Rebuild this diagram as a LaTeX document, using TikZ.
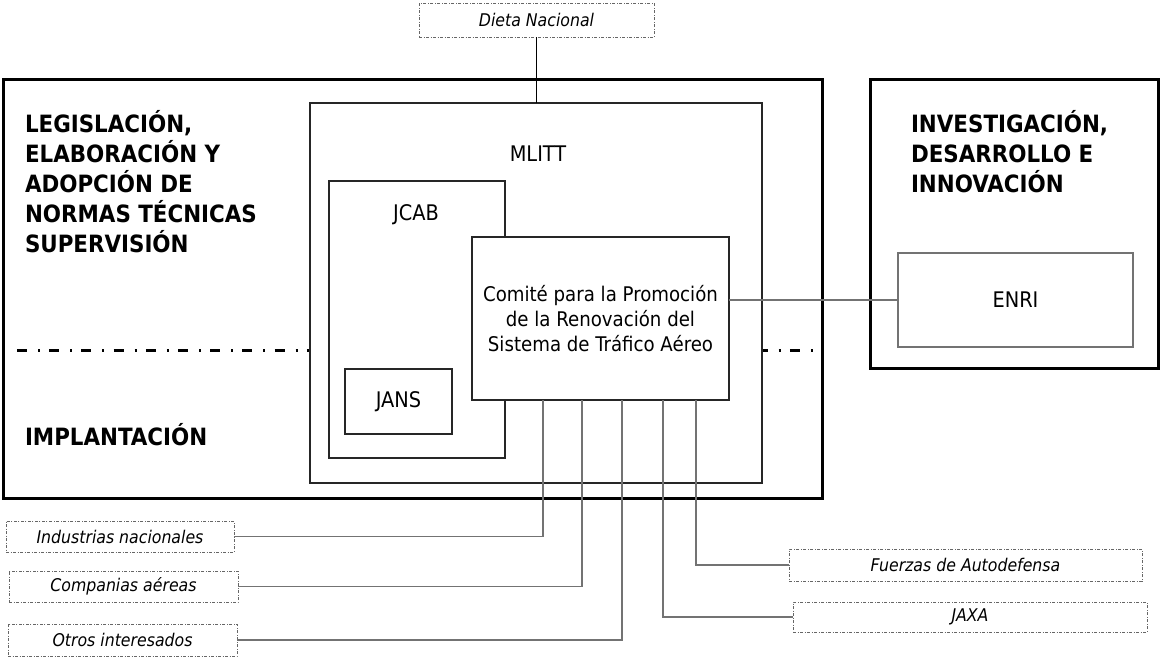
\documentclass[tikz,border=0pt]{standalone}
\usepackage{fontspec}
\setmainfont{DejaVu Sans Condensed}
\begin{document}
\begin{tikzpicture}[x=1pt,y=-1pt,
  every node/.style={inner sep=0pt, outer sep=0pt},
  thickbox/.style={draw=black, line width=3pt},
  innerbox/.style={draw=black!85, line width=1.2pt, fill=white},
  greybox/.style={draw=black!55, line width=1.5pt, fill=white},
  dbox/.style={draw=black!60, line width=0.9pt, dash pattern=on 3pt off 1.5pt on 1pt off 1.5pt,
     font=\itshape\fontsize{17.5}{20}\selectfont},
  conn/.style={draw=black!55, line width=1.5pt},
  divider/.style={draw=black, line width=2.6pt, dash pattern=on 10pt off 11pt on 2pt off 9.2pt},
  headfont/.style={font=\bfseries\fontsize{23.8}{30}\selectfont, align=left},
  txt/.style={font=\fontsize{20.2}{25}\selectfont, align=center},
  bigtxt/.style={font=\fontsize{21.5}{25}\selectfont}
]
\useasboundingbox (0,0) rectangle (1161,657);

% big frames
\node[thickbox, minimum width=819, minimum height=419] (leftframe) at (412.5,288.5) {};
\node[thickbox, minimum width=288, minimum height=289] (rightframe) at (1014,223.5) {};

% divider
\coordinate (divA) at (17,350.5);
\coordinate (divB) at (leftframe.east |- divA);
\draw[divider] (divA) -- (divB);

% inner boxes
\node[innerbox, minimum width=452, minimum height=380] (mlitt) at (536,293) {};
\node[bigtxt] (mlittlabel) at (538,154) {MLITT};
\node[innerbox, minimum width=176, minimum height=277] (jcab) at (417,319.5) {};
\node[bigtxt] (jcablabel) at (416,215) {JCAB};
\node[innerbox, minimum width=107, minimum height=65, bigtxt] (jans) at (398.5,401.5) {JANS};
\node[innerbox, minimum width=257, minimum height=163, txt] (comite) at (600.5,318.5)
  {Comité para la Promoción\\de la Renovación del\\Sistema de Tráfico Aéreo};
\node[greybox, minimum width=235, minimum height=94, bigtxt] (enri) at (1015.5,300) {ENRI};

% headings
\node[headfont, anchor=north west] (legis) at (25,110)
  {LEGISLACIÓN,\\ELABORACIÓN Y\\ADOPCIÓN DE\\NORMAS TÉCNICAS\\SUPERVISIÓN};
\node[headfont, anchor=base west] (impl) at (25,445) {IMPLANTACIÓN};
\node[headfont, anchor=north west] (idi) at (911,110)
  {INVESTIGACIÓN,\\DESARROLLO E\\INNOVACIÓN};

% dashed external boxes
\node[dbox, minimum width=235, minimum height=34] (dieta) at (536.5,20) {Dieta Nacional};
\node[dbox, minimum width=228, minimum height=31] (ind) at (120,536.5) {Industrias nacionales};
\node[dbox, minimum width=229, minimum height=31] (comp) at (123.5,586.5) {Companias aéreas};
\node[dbox, minimum width=229, minimum height=32] (otros) at (122.5,640) {Otros interesados};
\node[dbox, minimum width=353, minimum height=32] (fuerzas) at (965.5,565) {Fuerzas de Autodefensa};
\node[dbox, minimum width=354, minimum height=30] (jaxa) at (970,617) {JAXA};

% connection points on the committee box
\coordinate (c1) at (543,400);
\coordinate (c2) at (582,400);
\coordinate (c3) at (622,400);
\coordinate (c4) at (663,400);
\coordinate (c5) at (696,400);

% connectors
\draw[conn, draw=black] (dieta.south) -- (dieta.south |- mlitt.north);
\draw[conn] (enri.west) -- (enri.west -| comite.east);
\draw[conn] (ind.east) -| (c1);
\draw[conn] (comp.east) -| (c2);
\draw[conn] (otros.east) -| (c3);
\draw[conn] (jaxa.west) -| (c4);
\draw[conn] (fuerzas.west) -| (c5);
\end{tikzpicture}
\end{document}
